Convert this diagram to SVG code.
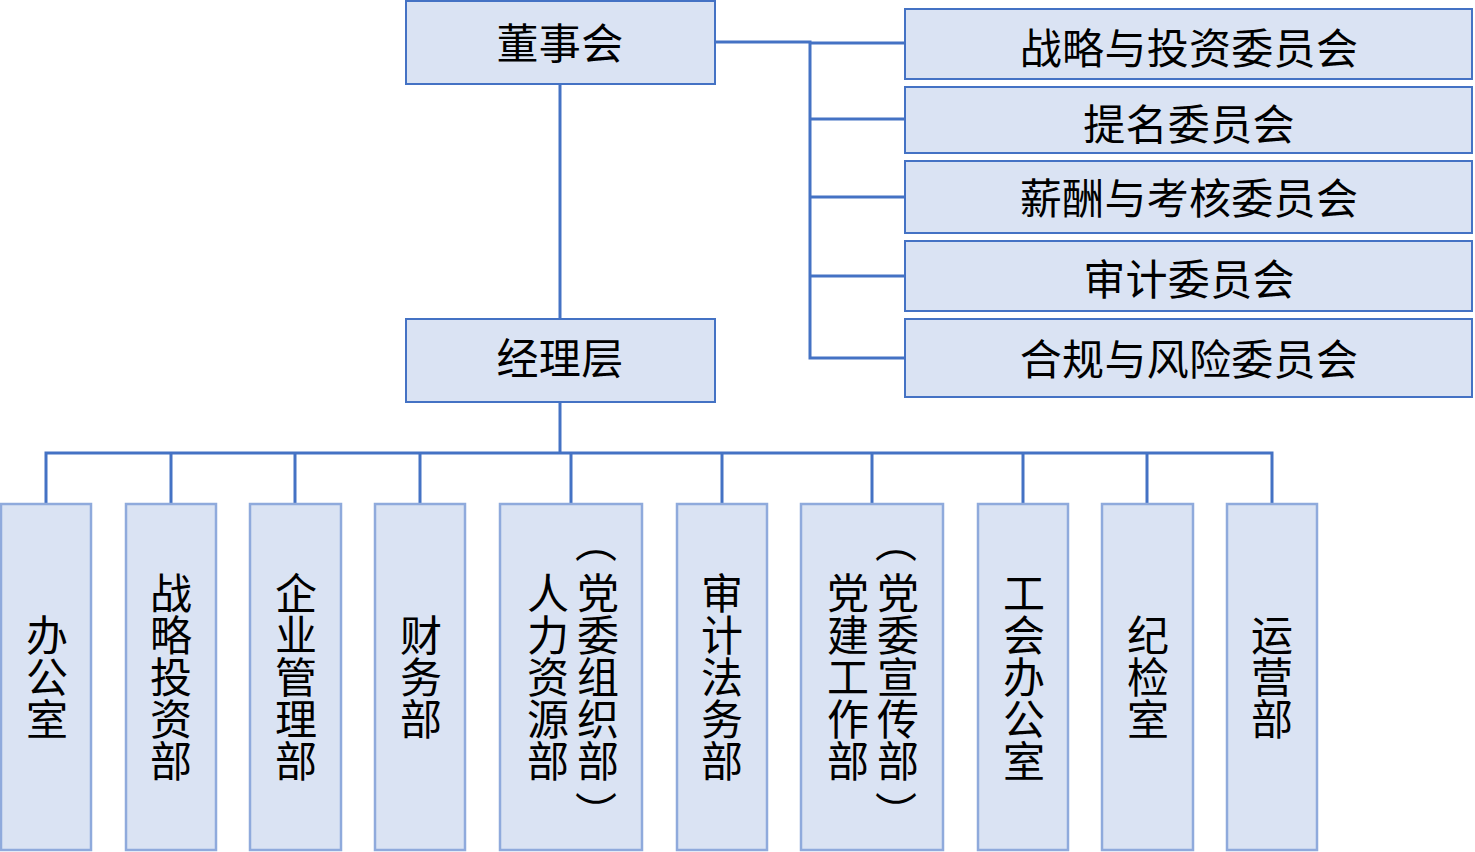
<svg xmlns="http://www.w3.org/2000/svg" width="1475" height="852" viewBox="0 0 1475 852">
<style>
.top{fill:#DAE3F3;stroke:#4472C4;stroke-width:2}
.dept{fill:#DAE3F3;stroke:#8FAADC;stroke-width:2.5}
.lbl{font-family:"Microsoft YaHei","Noto Sans CJK SC",sans-serif;font-size:42px;fill:#000;text-anchor:middle;dominant-baseline:central}
.h{letter-spacing:0.3px}
.v{writing-mode:vertical-rl;text-orientation:mixed}
.conn{fill:none;stroke:#4472C4;stroke-width:3}
</style>
<rect width="1475" height="852" fill="#fff"/>
<g id="connectors" class="conn">
<path d="M715 42H810V358H905"/>
<path d="M810 43H905"/>
<path d="M810 119H905M810 197H905M810 276H905"/>
<path d="M560 84V319"/>
<path d="M560 402V453"/>
<path d="M46 504V453H1272V504"/>
<path d="M171 453V504M295 453V504M420 453V504M571 453V504M722 453V504M872 453V504M1023 453V504M1147 453V504"/>
</g>
<g id="board"><rect class="top" x="406" y="1" width="309" height="83"/><text class="lbl h" x="560" y="40">董事会</text></g>
<g id="management"><rect class="top" x="406" y="319" width="309" height="83"/><text class="lbl h" x="560" y="355">经理层</text></g>
<g id="c1"><rect class="top" x="905" y="9" width="567" height="70"/><text class="lbl h" x="1189" y="45">战略与投资委员会</text></g>
<g id="c2"><rect class="top" x="905" y="87" width="567" height="66"/><text class="lbl h" x="1189" y="121">提名委员会</text></g>
<g id="c3"><rect class="top" x="905" y="161" width="567" height="72"/><text class="lbl h" x="1189" y="195">薪酬与考核委员会</text></g>
<g id="c4"><rect class="top" x="905" y="241" width="567" height="70"/><text class="lbl h" x="1189" y="276">审计委员会</text></g>
<g id="c5"><rect class="top" x="905" y="319" width="567" height="78"/><text class="lbl h" x="1189" y="356">合规与风险委员会</text></g>
<g id="d1"><rect class="dept" x="1" y="504" width="90" height="346"/><text class="lbl v" x="47" y="677">办公室</text></g>
<g id="d2"><rect class="dept" x="126" y="504" width="90" height="346"/><text class="lbl v" x="171" y="677">战略投资部</text></g>
<g id="d3"><rect class="dept" x="250" y="504" width="91" height="346"/><text class="lbl v" x="296" y="677">企业管理部</text></g>
<g id="d4"><rect class="dept" x="375" y="504" width="90" height="346"/><text class="lbl v" x="421" y="677">财务部</text></g>
<g id="d5"><rect class="dept" x="500" y="504" width="142" height="346"/>
<text class="lbl" transform="translate(598 542) rotate(90)">（</text>
<text class="lbl v" x="598" y="677">党委组织部</text>
<text class="lbl" transform="translate(598 812) rotate(90)">）</text>
<text class="lbl v" x="548" y="677">人力资源部</text></g>
<g id="d6"><rect class="dept" x="677" y="504" width="90" height="346"/><text class="lbl v" x="722" y="677">审计法务部</text></g>
<g id="d7"><rect class="dept" x="801" y="504" width="142" height="346"/>
<text class="lbl" transform="translate(898 542) rotate(90)">（</text>
<text class="lbl v" x="898" y="677">党委宣传部</text>
<text class="lbl" transform="translate(898 812) rotate(90)">）</text>
<text class="lbl v" x="848" y="677">党建工作部</text></g>
<g id="d8"><rect class="dept" x="978" y="504" width="90" height="346"/><text class="lbl v" x="1024" y="677">工会办公室</text></g>
<g id="d9"><rect class="dept" x="1102" y="504" width="91" height="346"/><text class="lbl v" x="1148" y="677">纪检室</text></g>
<g id="d10"><rect class="dept" x="1227" y="504" width="90" height="346"/><text class="lbl v" x="1272" y="677">运营部</text></g>
</svg>
